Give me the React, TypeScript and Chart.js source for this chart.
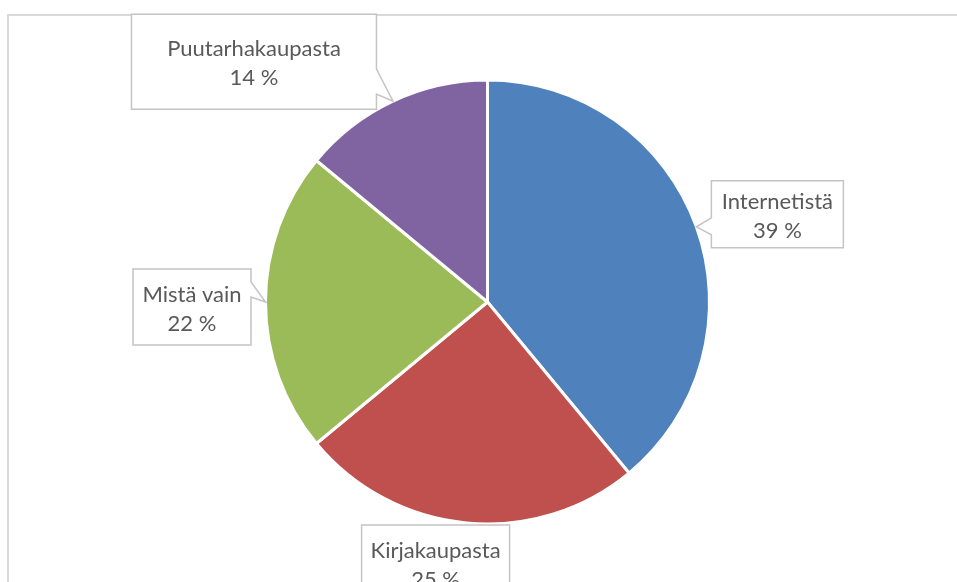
import React, { useEffect, useRef } from "react";
import { Chart, registerables } from "chart.js";

Chart.register(...registerables);

const categories = ["Internetistä", "Kirjakaupasta", "Mistä vain", "Puutarhakaupasta"];
const shares = [39, 25, 22, 14];
const percentLabels = ["39 %", "25 %", "22 %", "14 %"];
const sliceColors = ["#4F81BD", "#C0504D", "#9BBB59", "#8064A2"];

// callout box placement relative to the slice's outer mid-point
type Callout = { dx: number; dy: number; w: number; h: number; side: "left" | "right" | "none"; t1: number; t2: number };
const callouts: Callout[] = [
  { dx: 15, dy: -46, w: 132, h: 67, side: "left", t1: 37, t2: 54 },
  { dx: -105, dy: 2, w: 148, h: 76, side: "none", t1: 0, t2: 0 },
  { dx: -132.5, dy: -33, w: 118, h: 76, side: "right", t1: 13, t2: 28 },
  { dx: -261.5, dy: -87, w: 245, h: 95, side: "right", t1: 55, t2: 80 },
];

const FONT = "Lato, 'Open Sans', sans-serif";
const FONT_SIZE = 22;
const LINE_H = 29;
const TEXT_SHIFT = 2;

const framePlugin = {
  id: "frame",
  beforeDraw(chart: any) {
    const ctx = chart.ctx;
    ctx.save();
    ctx.strokeStyle = "#d9d9d9";
    ctx.lineWidth = 2;
    ctx.strokeRect(8, 15, 1200, 1200);
    ctx.restore();
  },
};

const calloutPlugin = {
  id: "callouts",
  afterDraw(chart: any) {
    const ctx = chart.ctx;
    const meta = chart.getDatasetMeta(0);
    meta.data.forEach((arc: any, i: number) => {
      const c = callouts[i];
      const mid = (arc.startAngle + arc.endAngle) / 2;
      const tx = arc.x + Math.cos(mid) * arc.outerRadius;
      const ty = arc.y + Math.sin(mid) * arc.outerRadius;
      const x0 = tx + c.dx;
      const y0 = ty + c.dy;
      const x1 = x0 + c.w;
      const y1 = y0 + c.h;
      ctx.save();
      ctx.beginPath();
      ctx.moveTo(x0, y0);
      ctx.lineTo(x1, y0);
      if (c.side === "right") {
        ctx.lineTo(x1, y0 + c.t1);
        ctx.lineTo(tx, ty);
        ctx.lineTo(x1, y0 + c.t2);
      }
      ctx.lineTo(x1, y1);
      ctx.lineTo(x0, y1);
      if (c.side === "left") {
        ctx.lineTo(x0, y0 + c.t2);
        ctx.lineTo(tx, ty);
        ctx.lineTo(x0, y0 + c.t1);
      }
      ctx.closePath();
      ctx.fillStyle = "#ffffff";
      ctx.fill();
      ctx.strokeStyle = "#c4c4c4";
      ctx.lineWidth = 1.5;
      ctx.lineJoin = "miter";
      ctx.stroke();

      ctx.fillStyle = "#595959";
      ctx.font = `${FONT_SIZE}px ${FONT}`;
      ctx.textAlign = "center";
      ctx.textBaseline = "middle";
      const cx = (x0 + x1) / 2;
      const cy = (y0 + y1) / 2 + TEXT_SHIFT;
      ctx.fillText(categories[i], cx, cy - LINE_H / 2);
      ctx.fillText(percentLabels[i], cx, cy + LINE_H / 2);
      ctx.restore();
    });
  },
};

export default function App() {
  const ref = useRef<HTMLCanvasElement | null>(null);
  useEffect(() => {
    if (!ref.current) return;
    const chart = new Chart(ref.current, {
      type: "pie",
      data: {
        labels: categories,
        datasets: [
          {
            data: shares,
            backgroundColor: sliceColors,
            borderColor: "#ffffff",
            borderWidth: 3,
          },
        ],
      },
      options: {
        responsive: false,
        animation: false,
        radius: 222,
        layout: { padding: { left: 266, right: 248, top: 80, bottom: 58 } },
        plugins: {
          legend: { display: false },
          tooltip: { enabled: false },
        },
      },
      plugins: [framePlugin, calloutPlugin],
    });
    return () => chart.destroy();
  }, []);
  return (
    <div style={{ position: "fixed", left: 0, top: 0, width: 957, height: 582, background: "#fff" }}>
      <canvas ref={ref} width={957} height={582} style={{ width: 957, height: 582, display: "block" }} />
    </div>
  );
}
